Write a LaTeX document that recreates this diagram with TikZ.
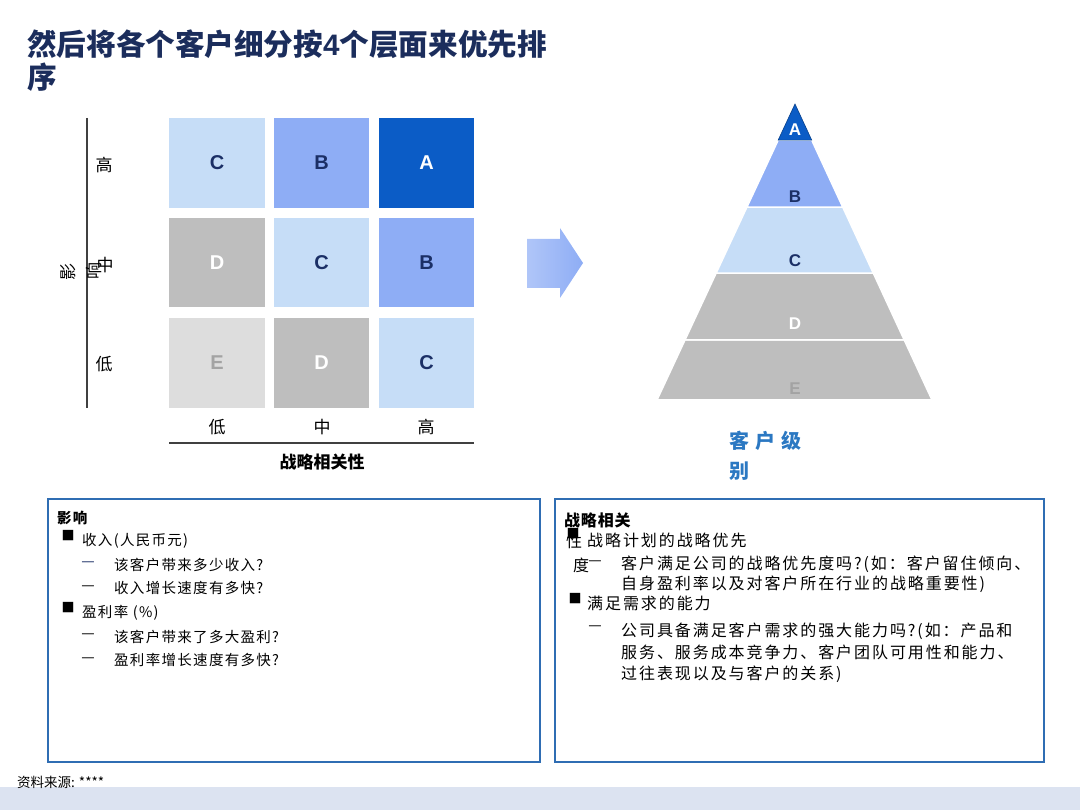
\documentclass[tikz,border=0pt]{standalone}
\usepackage{fontspec}
\setmainfont{Noto Sans CJK SC}
\newfontfamily\lat{Liberation Sans}
\usetikzlibrary{calc,positioning}

\newcommand\fsz[1]{\fontsize{#1}{#1}\selectfont}

\definecolor{navy}{HTML}{1B2F66}
\definecolor{titlecol}{HTML}{1B2D5C}
\definecolor{cellA}{HTML}{0B5CC6}
\definecolor{cellB}{HTML}{8EADF5}
\definecolor{cellC}{HTML}{C6DDF7}
\definecolor{cellD}{HTML}{BEBEBE}
\definecolor{cellE}{HTML}{DDDDDD}
\definecolor{letterE}{HTML}{A3A3A3}
\definecolor{boxblue}{HTML}{2F6DB3}
\definecolor{levelcol}{HTML}{2B78C2}
\definecolor{band}{HTML}{DCE3F1}

\begin{document}
\begin{tikzpicture}[x=1pt, y=-1pt,
    cell/.style={minimum width=95.5, minimum height=89.5, inner sep=0pt, font=\lat\bfseries\fsz{20}},
    tier/.style={inner sep=0pt, font=\lat\bfseries\fsz{17}},
    axlabel/.style={inner sep=0pt, font=\fsz{17}},
    layer/.style={draw=white, line width=1.5},
    txt/.style={anchor=base west, inner sep=0pt, font=\addfontfeature{LetterSpace=9}\fsz{14.5}},
    rtxt/.style={anchor=base west, inner sep=0pt, font=\addfontfeature{LetterSpace=12}\fsz{16}},
    blt/.style={inner sep=0pt, font=\fsz{13}},
    dsh/.style={inner sep=0pt, font=\fsz{15}}]

    \useasboundingbox (0,0) rectangle (1080,810);

    %% Title
    \node[anchor=north west, inner sep=0pt, align=left, text=titlecol,
          font=\bfseries\fontsize{29.6}{33}\selectfont] (title) at (27,30)
        {然后将各个客户细分按{\lat\bfseries 4}个层面来优先排\\序};

    %% Matrix

    % Row high
    \node[cell, fill=cellC, text=navy] (c13) at (217,163) {C};
    \node[cell, fill=cellB, text=navy] (c23) at (321.5,163) {B};
    \node[cell, fill=cellA, text=white] (c33) at (426.5,163) {A};

    % Row middle
    \node[cell, fill=cellD, text=white] (c12) at (217,262.5) {D};
    \node[cell, fill=cellC, text=navy] (c22) at (321.5,262.5) {C};
    \node[cell, fill=cellB, text=navy] (c32) at (426.5,262.5) {B};

    % Row low
    \node[cell, fill=cellE, text=letterE] (c11) at (217,363) {E};
    \node[cell, fill=cellD, text=white] (c21) at (321.5,363) {D};
    \node[cell, fill=cellC, text=navy] (c31) at (426.5,363) {C};

    % Vertical axis
    \coordinate (ytop) at (87,118);
    \coordinate (ybot) at (87,408);
    \draw[line width=1.5, black!75] (ytop) -- (ybot);
    \node[axlabel] (yhi) at (104,165) {高};
    \node[axlabel] (ymid) at (105,265) {中};
    \node[axlabel] (ylo) at (104,364) {低};
    \node[axlabel, rotate=90] (yname1) at (68,272) {影};
    \node[axlabel, rotate=90] (yname2) at (94,271) {响};

    % Horizontal axis
    \coordinate (xleft) at (169,443);
    \coordinate (xright) at (474,443);
    \draw[line width=1.5, black!75] (xleft) -- (xright);
    \node[axlabel] (xlo) at (217,427) {低};
    \node[axlabel] (xmid) at (322,427) {中};
    \node[axlabel] (xhi) at (426,427) {高};
    \node[axlabel, font=\bfseries\fsz{17}] (xname) at (322,462) {战略相关性};

    %% Block arrow
    \shade[left color=cellB!70, right color=cellB]
        (527,239) -- (560,239) -- (560,228) -- (583,263)
        -- (560,298) -- (560,288) -- (527,288) -- cycle;

    %% Pyramid
    \coordinate (apex) at (795,104);
    \coordinate (bl) at (657,400);
    \coordinate (br) at (932,400);

    \fill[layer, fill=cellD] ($(apex)!0.797!(bl)$) -- (bl) -- (br) -- ($(apex)!0.797!(br)$) -- cycle;
    \fill[layer, fill=cellD] ($(apex)!0.571!(bl)$) -- ($(apex)!0.797!(bl)$) -- ($(apex)!0.797!(br)$) -- ($(apex)!0.571!(br)$) -- cycle;
    \fill[layer, fill=cellC] ($(apex)!0.348!(bl)$) -- ($(apex)!0.571!(bl)$) -- ($(apex)!0.571!(br)$) -- ($(apex)!0.348!(br)$) -- cycle;
    \fill[layer, fill=cellB] ($(apex)!0.122!(bl)$) -- ($(apex)!0.348!(bl)$) -- ($(apex)!0.348!(br)$) -- ($(apex)!0.122!(br)$) -- cycle;
    \filldraw[fill=cellA, draw=cellA!70!black, line width=0.6] (apex) -- ($(apex)!0.122!(bl)$) -- ($(apex)!0.122!(br)$) -- cycle;

    \node[tier, text=white] (pA) at (795,130) {A};
    \node[tier, text=navy] (pB) at (795,197) {B};
    \node[tier, text=navy] (pC) at (795,261) {C};
    \node[tier, text=white] (pD) at (795,324) {D};
    \node[tier, text=letterE] (pE) at (795,389) {E};

    \node[anchor=north west, inner sep=0pt, align=left, text=levelcol,
          font=\bfseries\fontsize{20}{30}\addfontfeature{LetterSpace=30}\selectfont] (level) at (729,431)
        {客户级\\别};

    %% Impact box
    \draw[boxblue, line width=2.5] (48,499) rectangle (540,762);
    \node[txt, font=\bfseries\addfontfeature{LetterSpace=9}\fsz{14.5}] (imp) at (57,523) {影响};
    \node[blt] (ib1) at (68,536) {■};
    \node[txt] (rev) at (82,545) {收入(人民币元)};
    \node[dsh, text=navy] (id1) at (88,564) {—};
    \node[txt] (rev1) at (114,570) {该客户带来多少收入?};
    \node[dsh] (id2) at (88,588) {—};
    \node[txt] (rev2) at (114,593) {收入增长速度有多快?};
    \node[blt] (ib2) at (68,608) {■};
    \node[txt] (prof) at (82,617) {盈利率 (\%)};
    \node[dsh] (id3) at (88,636) {—};
    \node[txt] (prof1) at (114,642) {该客户带来了多大盈利?};
    \node[dsh] (id4) at (88,660) {—};
    \node[txt] (prof2) at (114,665) {盈利率增长速度有多快?};

    %% Strategic relevance box
    \draw[boxblue, line width=2.5] (555,499) rectangle (1044,762);
    \node[rtxt, font=\bfseries\addfontfeature{LetterSpace=5}\fsz{16}] (str) at (564,526) {战略相关};
    \node[rtxt] (str2) at (566,547) {性};
    \node[blt] (sb1) at (573,534) {■};
    \node[rtxt] (plan) at (587,546) {战略计划的战略优先};
    \node[rtxt] (str3) at (573,571) {度};
    \node[dsh] (sd1) at (595,563) {—};
    \node[rtxt] (plan1) at (621,569) {客户满足公司的战略优先度吗?(如：客户留住倾向、};
    \node[rtxt] (plan2) at (621,589) {自身盈利率以及对客户所在行业的战略重要性)};
    \node[blt] (sb2) at (575,599) {■};
    \node[rtxt] (abil) at (587,609) {满足需求的能力};
    \node[dsh] (sd2) at (595,628) {—};
    \node[rtxt] (abil1) at (621,636) {公司具备满足客户需求的强大能力吗?(如：产品和};
    \node[rtxt] (abil2) at (621,658) {服务、服务成本竞争力、客户团队可用性和能力、};
    \node[rtxt] (abil3) at (621,679) {过往表现以及与客户的关系)};

    %% Footer
    \fill[band] (0,787) rectangle (1080,810);
    \node[anchor=west, inner sep=0pt, font=\fsz{13.5}] (src) at (17,782) {资料来源: ****};

\end{tikzpicture}
\end{document}
